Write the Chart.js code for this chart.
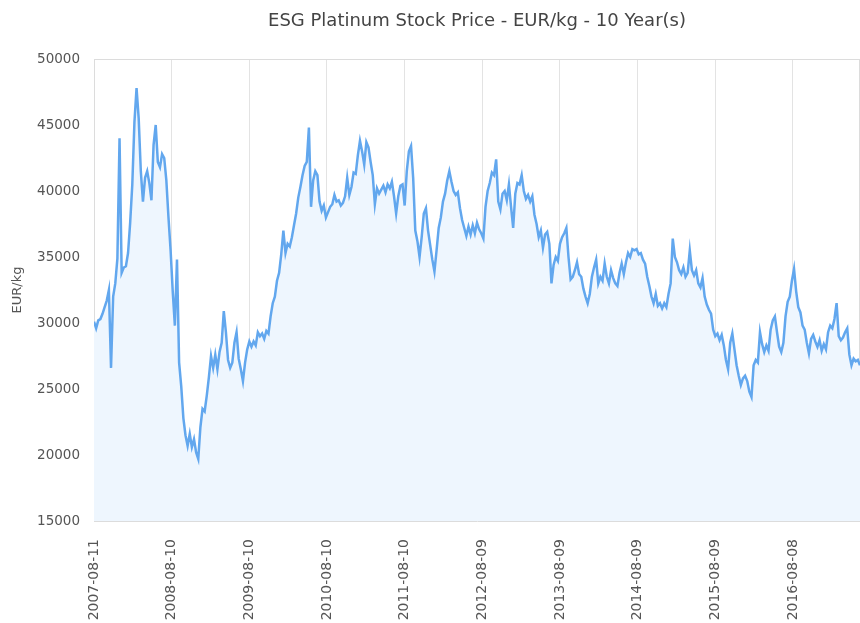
<!DOCTYPE html>
<html>
<head>
<meta charset="utf-8">
<title>ESG Platinum Stock Price</title>
<script src="https://cdn.jsdelivr.net/npm/chart.js@4"></script>
<style>
  html, body { margin: 0; padding: 0; background: #fff; }
  #wrap { width: 860px; height: 623px; }
</style>
</head>
<body>
<div id="wrap"><canvas id="chart" width="860" height="623"></canvas></div>
<script>
// series: one reading every stepDays days from startDate
const startDate = "2007-08-11";
const stepDays = 10;
const prices = [
  30100, 29600, 30200, 30300, 30700, 31200, 31700, 32500, 26600, 32000,
  33000, 34900, 44000, 33800, 34200, 34300, 35300, 37600, 40500, 45200,
  47800, 45500, 41500, 39200, 41000, 41500, 40600, 39300, 43500, 45000,
  42200, 41800, 42800, 42500, 40800, 38000, 35500, 32400, 29800, 34800,
  27000, 25200, 22800, 21500, 20700, 21600, 20600, 21200, 20200, 19700,
  22100, 23500, 23300, 24500, 25900, 27500, 26600, 27600, 26500, 27800,
  28500, 30900, 29300, 27200, 26600, 27000, 28500, 29300, 27300, 26500,
  25600, 27000, 28000, 28600, 28200, 28600, 28300, 29300, 29000, 29200,
  28800, 29400, 29200, 30500, 31500, 32000, 33200, 33800, 35200, 37000,
  35300, 36000, 35800, 36500, 37400, 38300, 39500, 40300, 41200, 41900,
  42200, 44800, 38800, 40800, 41500, 41200, 39200, 38500, 38900, 38000,
  38400, 38800, 39000, 39700, 39200, 39300, 38900, 39100, 39600, 41000,
  39700, 40300, 41400, 41300, 42700, 43800, 43000, 42000, 43700, 43300,
  42200, 41200, 39000, 40200, 39800, 40100, 40400, 39900, 40500, 40200,
  40700, 39600, 38300, 39600, 40400, 40500, 38900, 41500, 43000, 43400,
  41000, 37000, 36200, 35000, 36500, 38300, 38700, 37000, 35900, 34800,
  33900, 35500, 37200, 38000, 39200, 39800, 40800, 41500, 40700, 40000,
  39700, 39900, 38700, 37800, 37200, 36600, 37300, 36700, 37400, 36800,
  37600, 37100, 36800, 36400, 38800, 40000, 40600, 41400, 41200, 42400,
  39200, 38600, 39800, 40000, 39300, 40500, 38800, 37200, 39800, 40600,
  40500, 41200, 40000, 39400, 39700, 39200, 39600, 38200, 37500, 36500,
  37000, 35700, 36700, 36900, 36000, 33000, 34400, 35000, 34700, 36000,
  36500, 36800, 37200, 35000, 33300, 33500, 34000, 34600, 33700, 33500,
  32600, 32000, 31500, 32200, 33500, 34200, 34800, 33000, 33500, 33200,
  34500, 33500, 33000, 34000, 33400, 33000, 32800, 33800, 34500, 33700,
  34600, 35300, 35000, 35600, 35500, 35600, 35200, 35300, 34800, 34500,
  33500, 32800, 32000, 31500, 32200, 31300, 31500, 31100, 31500, 31200,
  32200, 33000, 36400, 35000, 34600, 34000, 33700, 34200, 33500, 33800,
  35500, 34000, 33600, 34000, 33000, 32700, 33400, 32000, 31400, 31000,
  30700, 29500, 29000, 29200, 28700, 29100, 28300, 27200, 26500, 28500,
  29200, 28000, 26800, 26000, 25300, 25800, 26000, 25600, 24800, 24400,
  26800, 27200, 27000, 29300, 28400, 27800, 28300, 27900, 29500, 30200,
  30500, 29300, 28200, 27800, 28500, 30500, 31600, 32000, 33200, 34100,
  32400, 31200, 30800, 29800, 29500, 28500, 27700, 28800, 29100, 28600,
  28200, 28700, 27900, 28400, 28000, 29300, 29800, 29600, 30300, 31500,
  29000, 28700, 28900, 29300, 29600, 27600, 26800, 27300, 27100, 27200,
  26800
];
const xTickLabels = [
  "2007-08-11", "2008-08-10", "2009-08-10", "2010-08-10", "2011-08-10",
  "2012-08-09", "2013-08-09", "2014-08-09", "2015-08-09", "2016-08-08"
];
const yTickValues = [15000, 20000, 25000, 30000, 35000, 40000, 45000, 50000];
const chartTitle = "ESG Platinum Stock Price - EUR/kg - 10 Year(s)";
const yTitle = "EUR/kg";

const DAY = 86400000;
const t0 = Date.parse(startDate + "T00:00:00Z");
const dayOf = s => Math.round((Date.parse(s + "T00:00:00Z") - t0) / DAY);
const labelOf = d => new Date(t0 + d * DAY).toISOString().slice(0, 10);

const points = prices.map((v, i) => ({ x: i * stepDays, y: v }));
const lastDay = (prices.length - 1) * stepDays;

const FONT = "'DejaVu Sans', sans-serif";
const TEXT = "#555";

// title centred over the plot area, plus a thin frame round it
const framePlugin = {
  id: "frame",
  beforeDatasetsDraw(chart) {
    const { ctx, chartArea: a } = chart;
    ctx.save();
    ctx.strokeStyle = "#dcdcdc";
    ctx.lineWidth = 1;
    ctx.strokeRect(a.left + 0.5, a.top + 0.5, a.right - a.left - 1, a.bottom - a.top - 1);
    ctx.restore();
  },
  afterDraw(chart) {
    const { ctx, chartArea: a } = chart;
    ctx.save();
    ctx.fillStyle = "#444";
    ctx.font = "18px " + FONT;
    ctx.textAlign = "center";
    ctx.textBaseline = "middle";
    ctx.fillText(chartTitle, (a.left + a.right) / 2, 21);
    ctx.restore();
  }
};

new Chart(document.getElementById("chart"), {
  type: "line",
  data: {
    datasets: [{
      label: "Platinum EUR/kg",
      data: points,
      borderColor: "#62a7ee",
      backgroundColor: "#eef6fe",
      borderWidth: 2.5,
      pointRadius: 0,
      tension: 0,
      fill: "start"
    }]
  },
  options: {
    responsive: false,
    animation: false,
    layout: { padding: { top: 59, right: 0, left: 0, bottom: 0 } },
    plugins: {
      legend: { display: false },
      tooltip: { enabled: false }
    },
    scales: {
      x: {
        type: "linear",
        min: 0,
        max: lastDay,
        afterBuildTicks: s => { s.ticks = xTickLabels.map(l => ({ value: dayOf(l) })); },
        afterFit: s => { s.height = 102; },
        ticks: {
          autoSkip: false,
          minRotation: 90,
          maxRotation: 90,
          padding: 18,
          color: TEXT,
          font: { family: FONT, size: 14 },
          callback: v => labelOf(v)
        },
        grid: { color: "#e3e3e3", drawTicks: false },
        border: { color: "#dcdcdc" }
      },
      y: {
        min: 15000,
        max: 50000,
        afterBuildTicks: s => { s.ticks = yTickValues.map(v => ({ value: v })); },
        afterFit: s => { s.width = 94; },
        ticks: {
          padding: 14,
          color: TEXT,
          font: { family: FONT, size: 13.5 },
          callback: v => String(v)
        },
        grid: { display: false, drawTicks: false },
        border: { color: "#dcdcdc" },
        title: {
          display: true,
          text: yTitle,
          color: TEXT,
          font: { family: FONT, size: 13 },
          padding: { top: 10, bottom: 0 }
        }
      }
    }
  },
  plugins: [framePlugin]
});
</script>
</body>
</html>
